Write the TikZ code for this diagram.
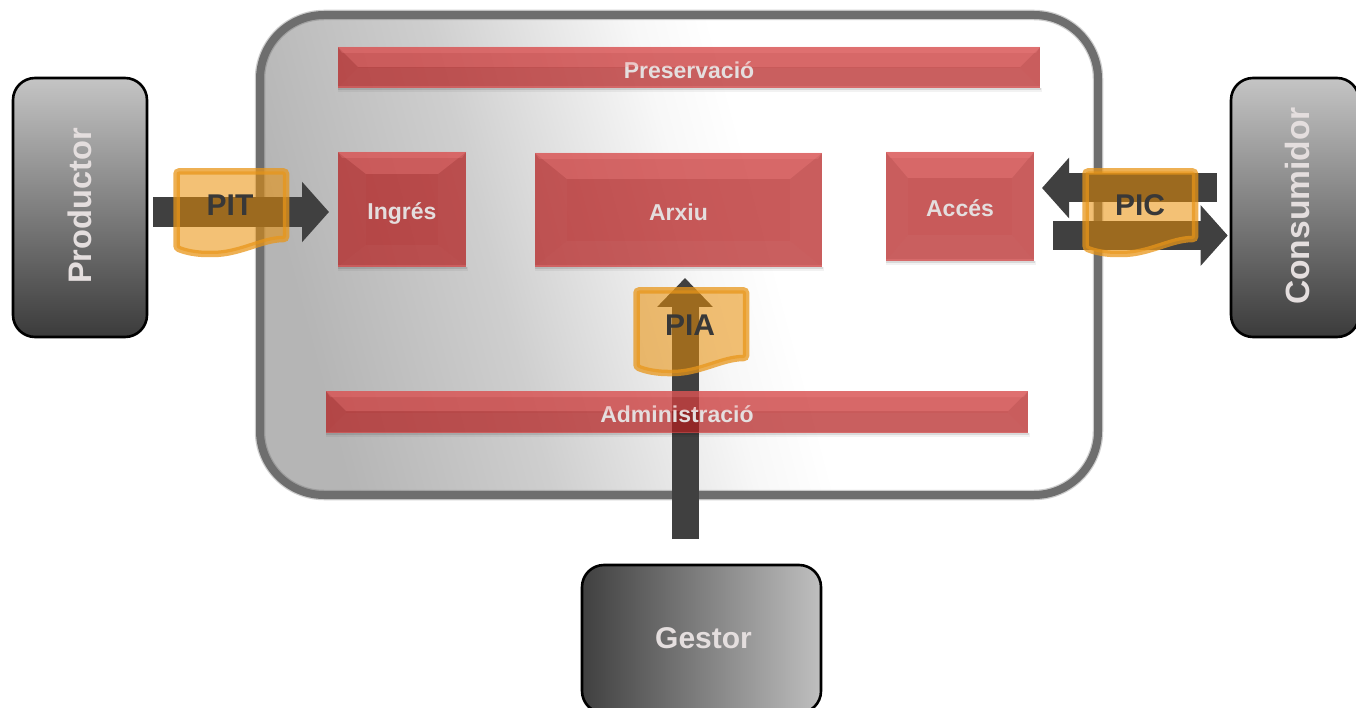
\documentclass[tikz,border=0pt]{standalone}
\usepackage{fontspec}
\setmainfont{Liberation Sans}
\usetikzlibrary{calc,arrows.meta}
\definecolor{boxred}{HTML}{B11414}
\definecolor{bevelpink}{HTML}{FF8E8E}
\definecolor{arrowgrey}{HTML}{404040}
\definecolor{labelgrey}{HTML}{E4DEDE}
\definecolor{docorange}{HTML}{E98E04}
\definecolor{edgeorange}{HTML}{E8961A}
\pgfdeclarehorizontalshading{contshade}{100bp}{
  color(0bp)=(black!29);color(25bp)=(black!29);color(38bp)=(black!19);
  color(46bp)=(black!9);color(51bp)=(black!3);color(56bp)=(white);color(100bp)=(white)}
\tikzset{
  x=1pt,y=-1pt,
  redbox/.style={fill=boxred,fill opacity=.7,text opacity=1,text=labelgrey,inner sep=0pt,outer sep=0pt,
    text height=20.5pt,text depth=0pt,font=\fontsize{23}{23}\selectfont\bfseries},
  actorbox/.style={draw=black,line width=2.6pt,rounded corners=22pt,inner sep=0pt,outer sep=1.3pt},
  actortext/.style={text=labelgrey,font=\fontsize{33.6}{34}\selectfont\bfseries,inner sep=0pt},
  flowarrow/.style={draw=arrowgrey,line width=#1,-{Triangle[length=27pt,width=59pt]}},
  docframe/.style={draw=edgeorange,draw opacity=.75,fill=docorange,fill opacity=.55,line width=6.5pt,rounded corners=2.5pt},
  doctext/.style={text=black!78,font=\fontsize{30}{30}\selectfont\bfseries,inner sep=0pt},
}
\newcommand{\bevelface}[3]{%
  \coordinate (p1) at (#1.north west);\coordinate (p2) at (#1.north east);
  \coordinate (p3) at (#1.south east);\coordinate (p4) at (#1.south west);
  \coordinate (q1) at ($(p1)+(#2,#3)$);\coordinate (q2) at ($(p2)+(-#2,#3)$);
  \coordinate (q3) at ($(p3)+(-#2,-#3)$);\coordinate (q4) at ($(p4)+(#2,-#3)$);
  \fill[bevelpink,opacity=.28] (p1)--(p2)--(q2)--(q1)--cycle;
  \fill[bevelpink,opacity=.22] (p1)--(p2)--($(p2)+(-4,6)$)--($(p1)+(4,6)$)--cycle;
  \fill[white,opacity=.02] (p1)--(q1)--(q4)--(p4)--cycle;
  \fill[white,opacity=.02] (p2)--(q2)--(q3)--(p3)--cycle;
  \fill[white,opacity=.03] (p4)--(q4)--(q3)--(p3)--cycle;
  \fill[bevelpink,opacity=.25] (p4) rectangle ($(p3)+(0,-1.5)$);
  \fill[black,opacity=.10] (p4) rectangle ($(p3)+(1,2)$);
  \fill[black,opacity=.05] (p4) rectangle ($(p3)+(2,4)$);
}
\newcommand{\docpath}[2]{%
  (#1+176.5,#2+171.5) -- (#1+286,#2+171.5) -- (#1+286,#2+239)
  .. controls (#1+262,#2+239) and (#1+240,#2+254) .. (#1+210,#2+254)
  .. controls (#1+197,#2+254) and (#1+186,#2+252) .. (#1+176.5,#2+248) -- cycle}
\begin{document}
\begin{tikzpicture}
\useasboundingbox (0,0) rectangle (1356,708);
% container
\path[shading=contshade,shading angle=15,rounded corners=64pt] (260,15) rectangle (1098,495);
\draw[black!56,opacity=.35,line width=10.5pt,rounded corners=64pt] (260,15) rectangle (1098,495);
\draw[black!57,line width=8pt,rounded corners=64pt] (260,15) rectangle (1098,495);
% actors
\node[actorbox,top color=black!23,bottom color=black!77,minimum width=134pt,minimum height=259pt] (productor) at (80,207.5) {};
\node[actortext,rotate=90,font=\fontsize{32.6}{33}\selectfont\bfseries] (productorlabel) at (80,206) {Productor};
\node[actorbox,top color=black!23,bottom color=black!77,minimum width=128pt,minimum height=259pt] (consumidor) at (1295,207.5) {};
\node[actortext,rotate=90] (consumidorlabel) at (1297,206) {Consumidor};
\node[actorbox,left color=black!75,right color=black!25,minimum width=239pt,minimum height=148pt] (gestor) at (701.5,639) {};
\node[actortext,font=\fontsize{30}{30}\selectfont\bfseries] (gestorlabel) at (703.5,638) {Gestor};
% function boxes
\node[redbox,minimum width=702pt,minimum height=41pt,text height=22.5pt] (preservacio) at (689,67.5) {Preservació};
\bevelface{preservacio}{20}{20}
\node[redbox,minimum width=128pt,minimum height=115pt] (ingres) at (402,209.5) {Ingrés};
\bevelface{ingres}{28}{22}
\node[redbox,minimum width=287pt,minimum height=114pt] (arxiu) at (678.5,210) {Arxiu};
\bevelface{arxiu}{32}{26}
\node[redbox,minimum width=148pt,minimum height=109pt] (acces) at (960,206.5) {Accés};
\bevelface{acces}{22}{26}
% connectors
\coordinate (pitstart) at (productor.east |- 0,212);
\coordinate (pitend) at (ingres.west |- 0,212);
\draw[flowarrow=30pt,shorten <=5pt,shorten >=9pt] (pitstart) -- (pitend);
\coordinate (picupstart) at (consumidor.west |- 0,188);
\coordinate (picupend) at (acces.east |- 0,188);
\draw[flowarrow=29pt,shorten <=13pt,shorten >=8pt] (picupstart) -- (picupend);
\coordinate (picdownstart) at (acces.east |- 0,235.5);
\coordinate (picdownend) at (consumidor.west |- 0,235.5);
\draw[flowarrow=29pt,shorten <=19pt,shorten >=2pt] (picdownstart) -- (picdownend);
\coordinate (piastart) at (685,565);
\coordinate (piaend) at (685,267);
\draw[flowarrow=27pt,shorten <=26pt,shorten >=11pt,-{Triangle[length=29pt,width=54pt]}] (piastart) -- (piaend);
% bar over the vertical arrow
\node[redbox,minimum width=702pt,minimum height=42pt] (administracio) at (677,412) {Administració};
\bevelface{administracio}{20}{20}
% information packages
\path[docframe] \docpath{0}{0};
\node[doctext] (pit) at (230,205) {PIT};
\path[docframe] \docpath{909}{0};
\node[doctext] (pic) at (1140,205) {PIC};
\path[docframe] \docpath{460}{119};
\node[doctext] (pia) at (690,325) {PIA};
\end{tikzpicture}
\end{document}
